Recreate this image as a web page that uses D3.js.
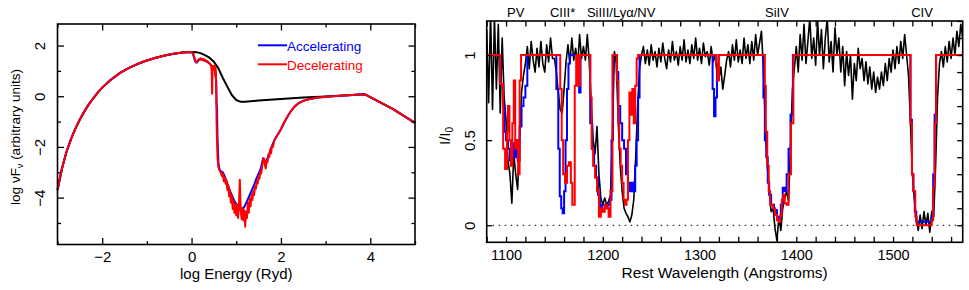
<!DOCTYPE html>
<html>
<head>
<meta charset="utf-8">
<script src="https://cdn.jsdelivr.net/npm/d3@7"></script>
<style>
  body { margin: 0; background: #fff; }
  svg { display: block; font-family: "Liberation Sans", Arial, sans-serif; }
</style>
</head>
<body>
<svg id="fig" width="969" height="290"></svg>
<script>
// ---------- left panel : SED ----------
var sedLogE = [-3, -2.9, -2.8, -2.7, -2.6, -2.5, -2.4, -2.3, -2.2, -2.1, -2.0, -1.8, -1.6, -1.4, -1.2, -1.0,
  -0.8, -0.6, -0.4, -0.2, 0, 0.1, 0.2, 0.3, 0.4, 0.5, 0.6, 0.7, 0.8, 0.9, 1.0, 1.1, 1.2, 1.5, 2.0, 2.5,
  3.0, 3.5, 3.87, 4.5, 5.0];
var sedIntrinsic = [-3.7, -2.85, -2.2, -1.7, -1.28, -0.92, -0.6, -0.32, -0.08, 0.14, 0.34, 0.66, 0.92, 1.12, 1.28, 1.41,
  1.52, 1.61, 1.68, 1.73, 1.75, 1.74, 1.70, 1.62, 1.52, 1.36, 1.1, 0.72, 0.38, 0.05, -0.15, -0.22, -0.22, -0.17, -0.11, -0.05,
  -0.01, 0.04, 0.08, -0.5, -1.05];

// absorbed part of the SED (log E between 0 and 3)
var decelE = [0.00, 0.03, 0.06, 0.08, 0.10, 0.12, 0.14, 0.16, 0.18, 0.20, 0.22, 0.24, 0.26, 0.28, 0.30, 0.32, 0.34, 0.36,
  0.38, 0.40, 0.42, 0.44, 0.45, 0.46, 0.47, 0.48, 0.50, 0.52, 0.53, 0.54, 0.55, 0.56, 0.57, 0.58, 0.60, 0.62, 0.65, 0.68,
  0.70, 0.72, 0.74, 0.76, 0.78, 0.80, 0.82, 0.84, 0.86, 0.88, 0.90, 0.92, 0.94, 0.96, 0.98, 1.00, 1.02, 1.04, 1.06, 1.08,
  1.10, 1.12, 1.14, 1.16, 1.18, 1.20, 1.22, 1.24, 1.26, 1.28, 1.30, 1.32, 1.34, 1.36, 1.38, 1.40, 1.42, 1.44, 1.46, 1.48,
  1.50, 1.52, 1.54, 1.56, 1.58, 1.60, 1.62, 1.64, 1.66, 1.68, 1.70, 1.72, 1.74, 1.76, 1.78, 1.80, 1.82, 1.85, 1.90, 1.95,
  2.00, 2.05, 2.10, 2.15, 2.20, 2.25, 2.30, 2.40, 2.50, 2.60, 2.80, 3.00];
var decelSED = [1.75, 1.70, 1.55, 1.42, 1.36, 1.35, 1.40, 1.46, 1.44, 1.50, 1.45, 1.48, 1.42, 1.46, 1.40, 1.42, 1.36, 1.38,
  1.32, 1.30, 1.25, 1.20, 1.00, 0.10, 1.10, 1.20, 1.05, 1.20, 0.80, 1.10, 0.60, -1.00, -1.80, -2.40, -2.80, -2.90, -3.00, -3.15,
  -3.05, -3.35, -3.20, -3.45, -3.30, -3.70, -3.50, -3.95, -3.70, -4.20, -3.90, -4.45, -4.10, -4.60, -4.25, -4.70, -4.30, -4.80, -4.35, -3.30,
  -4.50, -4.85, -4.40, -4.90, -4.50, -5.15, -4.55, -4.80, -4.20, -4.60, -4.05, -4.35, -3.90, -4.10, -3.75, -3.90, -3.55, -3.65, -3.35, -3.45,
  -3.15, -3.25, -2.95, -3.05, -2.75, -2.50, -2.45, -2.70, -2.85, -2.55, -2.60, -2.30, -2.40, -2.10, -2.25, -1.95, -2.00, -1.75, -1.60, -1.45,
  -1.30, -1.10, -0.95, -0.78, -0.65, -0.52, -0.42, -0.27, -0.18, -0.13, -0.06, -0.02];

var accelE = [0.00, 0.03, 0.06, 0.08, 0.10, 0.12, 0.15, 0.20, 0.25, 0.30, 0.35, 0.40, 0.44, 0.46, 0.50, 0.53, 0.55, 0.56,
  0.57, 0.58, 0.60, 0.62, 0.65, 0.70, 0.75, 0.80, 0.85, 0.90, 0.95, 1.00, 1.05, 1.10, 1.15, 1.20, 1.25, 1.30, 1.35, 1.40,
  1.45, 1.50, 1.55, 1.60, 1.65, 1.70, 1.75, 1.80, 1.85, 1.90, 1.95, 2.00, 2.10, 2.20, 2.30, 2.40, 2.50, 2.60, 2.80, 3.00];
var accelSED = [1.75, 1.68, 1.50, 1.38, 1.33, 1.33, 1.40, 1.46, 1.44, 1.40, 1.36, 1.30, 1.22, 1.10, 1.05, 1.00, 0.60, -0.30,
  -0.50, -1.60, -2.60, -2.85, -2.95, -3.00, -3.20, -3.45, -3.70, -3.90, -4.10, -4.25, -4.35, -4.40, -4.45, -4.30, -4.10, -3.90, -3.70, -3.50,
  -3.25, -3.05, -2.85, -2.45, -2.60, -2.45, -2.20, -1.95, -1.75, -1.60, -1.45, -1.30, -0.95, -0.65, -0.42, -0.27, -0.18, -0.13, -0.06, -0.02];

var energyMajor = [-2, 0, 2, 4];
var energyMinor = [-3, -1, 1, 3, 5];
var sedMajor = [-4, -2, 0, 2];
var sedMinor = [-5, -3, -1, 1];
var legendNames = ["Accelerating", "Decelerating"];
var legendColors = ["#0000ff", "#ff0000"];

// ---------- right panel : spectrum ----------
// observed spectrum, one value every 2 A from 1080 A (each row = 20 A)
var specStart = 1080, specStep = 2;
var specFlux = [
  1.15, 0.72, 1.25, 0.68, 1.22, 0.80, 1.18, 0.66, 1.10, 0.75,   // 1080
  0.62, 0.38, 0.30, 0.13, 0.42, 0.30, 0.21, 0.50, 0.78, 0.88,   // 1100
  0.95, 1.05, 0.92, 1.08, 0.97, 0.90, 1.04, 0.93, 1.08, 0.95,   // 1120
  0.90, 1.06, 0.96, 1.10, 0.98, 0.98, 0.90, 0.78, 0.68, 0.66,   // 1140
  0.80, 0.96, 1.06, 0.95, 1.10, 0.97, 1.04, 0.93, 1.12, 0.98,   // 1160
  1.05, 0.97, 1.12, 0.96, 0.72, 0.50, 0.42, 0.58, 0.30, 0.16,   // 1180
  0.12, 0.16, 0.12, 0.14, 0.18, 0.55, 1.02, 0.95, 0.60, 0.35,   // 1200
  0.20, 0.10, 0.07, 0.05, 0.02, 0.06, 0.15, 0.40, 0.70, 0.92,   // 1220
  1.00, 1.05, 0.95, 1.03, 0.94, 1.06, 0.97, 1.02, 0.93, 1.04,   // 1240
  0.96, 1.07, 0.98, 0.92, 1.03, 0.96, 1.08, 0.97, 1.02, 0.94,   // 1260
  1.05, 0.97, 1.09, 0.96, 1.03, 0.95, 1.06, 0.98, 1.10, 0.97,   // 1280
  1.04, 0.95, 1.07, 0.99, 1.02, 0.94, 1.05, 0.96, 1.00, 0.90,   // 1300
  0.86, 0.93, 0.80, 0.88, 0.97, 1.02, 0.93, 1.06, 0.97, 1.09,   // 1320
  0.96, 1.03, 0.95, 1.10, 0.98, 1.06, 0.95, 1.08, 0.97, 1.12,   // 1340
  1.00, 1.07, 1.14, 0.92, 0.60, 0.35, 0.20, 0.08, 0.10, -0.02,  // 1360
  -0.09, 0.05, -0.03, 0.10, 0.16, 0.20, 0.14, 0.45, 0.80, 0.92, // 1380
  1.05, 0.90, 1.12, 0.97, 1.18, 0.95, 1.08, 1.22, 0.98, 1.10,   // 1400
  0.94, 1.20, 1.00, 1.15, 0.92, 1.10, 1.22, 0.96, 1.08, 0.90,   // 1420
  1.16, 1.00, 1.10, 0.90, 1.05, 0.82, 1.02, 0.88, 1.00, 0.74,   // 1440
  0.95, 0.85, 1.04, 0.92, 0.98, 0.85, 0.96, 0.83, 0.93, 0.80,   // 1460
  0.90, 0.78, 0.87, 0.80, 0.90, 0.82, 0.95, 0.85, 0.98, 0.90,   // 1480
  1.03, 0.92, 1.05, 0.95, 1.08, 0.98, 1.12, 1.00, 0.88, 0.60,   // 1500
  0.30, 0.15, 0.05, -0.03, 0.06, -0.02, 0.08, 0.00, 0.07, -0.04, // 1520
  0.08, 0.05, 0.35, 0.75, 0.95, 1.02, 0.93, 1.05, 0.96, 1.08,   // 1540
  0.98, 1.10, 1.00, 1.14, 1.05, 1.18, 1.10                      // 1560
];

// model spectra as steps: wavelength where each level starts
var accelWave = [1080, 1094, 1097, 1098.5, 1100, 1102, 1104, 1106, 1108, 1110, 1112, 1114, 1116, 1118, 1120, 1122,
  1152, 1154, 1155.5, 1157, 1158.5, 1160, 1161.5, 1163, 1164.5, 1166, 1175.5, 1177,
  1187, 1189, 1191, 1193, 1195, 1197, 1199, 1202, 1205, 1207, 1209, 1210.5,
  1214.5, 1216, 1218, 1220, 1222, 1224, 1226, 1228, 1230, 1232, 1233.5, 1235, 1236.5, 1238,
  1313.5, 1315, 1316.5, 1318, 1319.5,
  1366, 1367.5, 1369, 1370.5, 1372, 1374, 1377, 1380, 1382, 1384, 1386, 1388, 1390, 1392, 1394, 1396.5,
  1518, 1519.5, 1521, 1522.5, 1524, 1540, 1541.5, 1543, 1544.5, 1572];
var accelFlux = [1.0, 0.83, 0.7, 0.55, 0.5, 0.45, 0.38, 0.48, 0.4, 0.5, 0.38, 0.58, 0.7, 0.75, 0.82, 1.0,
  0.8, 0.45, 0.17, 0.1, 0.07, 0.2, 0.5, 0.8, 0.95, 1.0, 0.78, 1.0,
  0.6, 0.45, 0.35, 0.28, 0.18, 0.08, 0.12, 0.1, 0.12, 0.15, 0.5, 1.0,
  0.9, 0.7, 0.6, 0.5, 0.45, 0.3, 0.25, 0.2, 0.25, 0.2, 0.35, 0.5, 0.75, 1.0,
  0.8, 0.64, 0.75, 0.9, 1.0,
  0.75, 0.5, 0.4, 0.25, 0.18, 0.12, 0.09, 0.04, 0.05, 0.12, 0.22, 0.2, 0.3, 0.45, 0.65, 1.0,
  0.62, 0.3, 0.2, 0.08, 0.02, 0.05, 0.3, 0.65, 1.0, 1.0];

var decelWave = [1080, 1094, 1097, 1099, 1101, 1102, 1103.5, 1105, 1106.5, 1108, 1109.5, 1111, 1112.5, 1114, 1115.5,
  1156, 1157.5, 1159, 1161, 1163, 1165, 1167, 1168.5, 1171, 1172.5, 1174.5, 1176.5,
  1187, 1188.5, 1190, 1192, 1194, 1196, 1198, 1200, 1202, 1204, 1206, 1208, 1210,
  1214.5, 1216, 1217, 1218.5, 1220, 1221.5, 1223, 1224.5, 1226, 1227.5, 1229, 1230.5, 1232, 1233.5, 1235, 1236.5,
  1317, 1318.5, 1320,
  1367.5, 1368.5, 1370, 1371.5, 1373, 1376, 1378, 1380, 1382, 1383.5, 1385, 1386.5, 1388, 1390, 1392, 1394.5, 1397,
  1518, 1519.6, 1521, 1523, 1524.5, 1540, 1541.5, 1543, 1544.5, 1572];
var decelFlux = [1.0, 0.83, 0.45, 0.33, 0.55, 0.7, 0.5, 0.35, 0.6, 0.85, 0.45, 0.5, 0.3, 0.85, 1.0,
  0.8, 0.5, 0.3, 0.25, 0.35, 0.37, 0.25, 0.12, 0.82, 1.0, 0.82, 1.0,
  0.75, 0.45, 0.35, 0.28, 0.2, 0.05, 0.1, 0.08, 0.12, 0.1, 0.05, 0.2, 1.0,
  0.85, 0.6, 0.45, 0.35, 0.25, 0.15, 0.12, 0.15, 0.5, 0.78, 0.65, 0.8, 0.6, 0.82, 0.98, 1.0,
  0.95, 0.85, 1.0,
  0.82, 0.55, 0.35, 0.2, 0.12, 0.1, 0.06, 0.03, 0.02, 0.06, 0.15, 0.18, 0.13, 0.12, 0.3, 0.6, 1.0,
  0.6, 0.3, 0.2, 0.05, 0.0, 0.03, 0.22, 0.6, 1.0, 1.0];

var ionNames = ["PV", "CIII*", "SiIII/Ly\u03b1/NV", "SiIV", "CIV"];
var ionWave = [1110, 1158.5, 1219, 1380, 1530];
var waveLabelled = [1100, 1200, 1300, 1400, 1500];
var fluxLabelled = [0, 0.5, 1];

// ================= drawing =================
var svg = d3.select("#fig");
var fmt = d3.format("d");

function zip(xs, ys) {
  return xs.map(function(x, i) { return [x, ys[i]]; });
}

function styleAxis(g) {
  g.select(".domain").remove();
  g.attr("font-size", 15).attr("font-family", null);
  g.selectAll(".tick line").attr("stroke", "#000").attr("stroke-width", 1.3);
  g.selectAll(".tick text").attr("fill", "#000");
}

// ----- left panel -----
var L = {left: 57.5, right: 415, top: 24, bottom: 244.5};
var xL = d3.scaleLinear().domain([-3, 5]).range([L.left, L.right]);
var yL = d3.scaleLinear().domain([-5.85, 2.85]).range([L.bottom, L.top]);
var gL = svg.append("g");

var blackPts = zip(sedLogE, sedIntrinsic);
var head = blackPts.filter(function(d) { return d[0] < 0; });
var tail = blackPts.filter(function(d) { return d[0] > 3; });
var bluePts = head.concat(zip(accelE, accelSED), tail);
var redPts = head.concat(zip(decelE, decelSED), tail);

var lineL = d3.line().x(function(d) { return xL(d[0]); }).y(function(d) { return yL(d[1]); });
[[blackPts, "#000"], [bluePts, "#0000ff"], [redPts, "#ff0000"]].forEach(function(s) {
  gL.append("path").datum(s[0]).attr("d", lineL)
    .attr("fill", "none").attr("stroke", s[1]).attr("stroke-width", 2).attr("stroke-linejoin", "round");
});

// axes, ticks pointing inward
gL.append("g").attr("transform", "translate(0," + L.bottom + ")")
  .call(d3.axisBottom(xL).tickValues(energyMajor).tickSize(-6.5).tickPadding(7).tickFormat(fmt)).call(styleAxis);
gL.append("g").attr("transform", "translate(0," + L.bottom + ")")
  .call(d3.axisBottom(xL).tickValues(energyMinor).tickSize(-3.5).tickFormat("")).call(styleAxis);
gL.append("g").attr("transform", "translate(0," + L.top + ")")
  .call(d3.axisTop(xL).tickValues(energyMajor).tickSize(-6.5).tickFormat("")).call(styleAxis);
gL.append("g").attr("transform", "translate(0," + L.top + ")")
  .call(d3.axisTop(xL).tickValues(energyMinor).tickSize(-3.5).tickFormat("")).call(styleAxis);
var yAxL = gL.append("g").attr("transform", "translate(" + L.left + ",0)")
  .call(d3.axisLeft(yL).tickValues(sedMajor).tickSize(-6.5).tickFormat(fmt)).call(styleAxis);
yAxL.selectAll(".tick text").attr("transform", "rotate(-90)").attr("x", 0).attr("y", -12.5)
  .attr("dy", 0).attr("text-anchor", "middle");
gL.append("g").attr("transform", "translate(" + L.left + ",0)")
  .call(d3.axisLeft(yL).tickValues(sedMinor).tickSize(-3.5).tickFormat("")).call(styleAxis);
gL.append("g").attr("transform", "translate(" + L.right + ",0)")
  .call(d3.axisRight(yL).tickValues(sedMajor).tickSize(-6.5).tickFormat("")).call(styleAxis);
gL.append("g").attr("transform", "translate(" + L.right + ",0)")
  .call(d3.axisRight(yL).tickValues(sedMinor).tickSize(-3.5).tickFormat("")).call(styleAxis);

gL.append("rect").attr("x", L.left).attr("y", L.top).attr("width", L.right - L.left).attr("height", L.bottom - L.top)
  .attr("fill", "none").attr("stroke", "#000").attr("stroke-width", 1.6);

gL.append("text").attr("x", (L.left + L.right) / 2).attr("y", 279).attr("text-anchor", "middle")
  .attr("font-size", 15).text("log Energy (Ryd)");
var ylabL = gL.append("text").attr("transform", "translate(20,137) rotate(-90)").attr("text-anchor", "middle")
  .attr("font-size", 13.5);
ylabL.append("tspan").text("log \u03bdF");
ylabL.append("tspan").attr("font-size", 9).attr("dy", 3).text("\u03bd");
ylabL.append("tspan").attr("dy", -3).text(" (arbitrary units)");

// legend
legendNames.forEach(function(name, i) {
  var y = 45.3 + i * 19;
  gL.append("line").attr("x1", 258).attr("x2", 287).attr("y1", y).attr("y2", y)
    .attr("stroke", legendColors[i]).attr("stroke-width", 2);
  gL.append("text").attr("x", 287).attr("y", y + 5.2).attr("font-size", 13.5)
    .attr("fill", legendColors[i]).text(name);
});

// ----- right panel -----
var R = {left: 486.7, right: 962.7, top: 21, bottom: 242.3};
var xR = d3.scaleLinear().domain([1080, 1572]).range([R.left, R.right]);
var yR = d3.scaleLinear().domain([-0.1, 1.2]).range([R.bottom, R.top]);
var gR = svg.append("g");

svg.append("defs").append("clipPath").attr("id", "clipR").append("rect")
  .attr("x", R.left).attr("y", R.top).attr("width", R.right - R.left).attr("height", R.bottom - R.top);

gR.append("line").attr("x1", R.left).attr("x2", R.right).attr("y1", yR(0)).attr("y2", yR(0))
  .attr("stroke", "#333").attr("stroke-width", 1.2).attr("stroke-dasharray", "1.5,4.5");

var plotR = gR.append("g").attr("clip-path", "url(#clipR)");
var specPts = specFlux.map(function(v, i) { return [specStart + i * specStep, v]; });
var lineR = d3.line().x(function(d) { return xR(d[0]); }).y(function(d) { return yR(d[1]); });
var stepR = d3.line().curve(d3.curveStepAfter).x(function(d) { return xR(d[0]); }).y(function(d) { return yR(d[1]); });

plotR.append("path").datum(specPts).attr("d", lineR)
  .attr("fill", "none").attr("stroke", "#000").attr("stroke-width", 1.6).attr("stroke-linejoin", "round");
plotR.append("path").datum(zip(accelWave, accelFlux)).attr("d", stepR)
  .attr("fill", "none").attr("stroke", "#0000ff").attr("stroke-width", 2);
plotR.append("path").datum(zip(decelWave, decelFlux)).attr("d", stepR)
  .attr("fill", "none").attr("stroke", "#ff0000").attr("stroke-width", 2);

var waveTicks = d3.range(1080, 1572, 20);
var fluxTicks = d3.range(0, 13).map(function(i) { return i / 10; });

var xAxR = gR.append("g").attr("transform", "translate(0," + R.bottom + ")")
  .call(d3.axisBottom(xR).tickValues(waveTicks).tickSize(-5.5).tickPadding(7.5)
    .tickFormat(function(d) { return waveLabelled.indexOf(d) >= 0 ? fmt(d) : ""; })).call(styleAxis);
xAxR.attr("font-size", 14.5);
gR.append("g").attr("transform", "translate(0," + R.top + ")")
  .call(d3.axisTop(xR).tickValues(waveTicks).tickSize(-5.5).tickFormat("")).call(styleAxis);
var yAxR = gR.append("g").attr("transform", "translate(" + R.left + ",0)")
  .call(d3.axisLeft(yR).tickValues(fluxLabelled).tickSize(-5.5)
    .tickFormat(function(d) { return d === 0.5 ? "0.5" : fmt(d); })).call(styleAxis);
yAxR.selectAll(".tick text").attr("transform", "rotate(-90)").attr("x", 0).attr("y", -11.7)
  .attr("dy", 0).attr("text-anchor", "middle");
gR.append("g").attr("transform", "translate(" + R.right + ",0)")
  .call(d3.axisRight(yR).tickValues(fluxTicks).tickSize(-5.5).tickFormat("")).call(styleAxis);

gR.append("rect").attr("x", R.left).attr("y", R.top).attr("width", R.right - R.left).attr("height", R.bottom - R.top)
  .attr("fill", "none").attr("stroke", "#000").attr("stroke-width", 1.6);

gR.append("text").attr("x", (R.left + R.right) / 2).attr("y", 277.5).attr("text-anchor", "middle")
  .attr("font-size", 15.5).text("Rest Wavelength (Angstroms)");
var ylabR = gR.append("text").attr("transform", "translate(450,136) rotate(-90)").attr("text-anchor", "middle")
  .attr("font-size", 15);
ylabR.append("tspan").text("I/I");
ylabR.append("tspan").attr("font-size", 10).attr("dy", 3).text("0");

ionNames.forEach(function(name, i) {
  gR.append("text").attr("x", xR(ionWave[i])).attr("y", 17.3).attr("text-anchor", "middle")
    .attr("font-size", 13).text(name);
});
</script>
</body>
</html>
